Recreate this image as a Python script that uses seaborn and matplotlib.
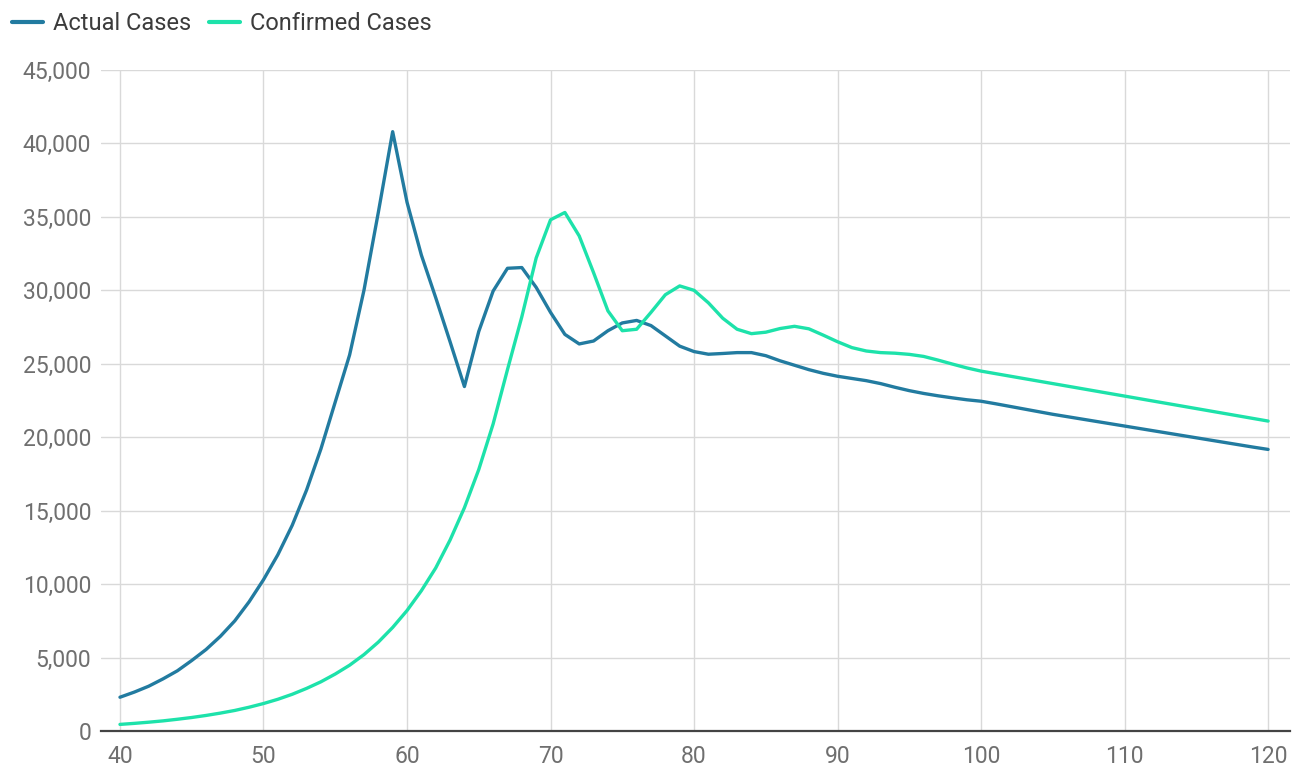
import pandas as pd
import seaborn as sns
import matplotlib.pyplot as plt
from matplotlib.ticker import FuncFormatter, MultipleLocator

# data (day -> cases)
days = list(range(40, 121))

actual_cases = [
    2300, 2650, 3050, 3550, 4100, 4800, 5550, 6450, 7500, 8800,        # 40-49
    10300, 12000, 14000, 16400, 19200, 22400, 25600, 30000, 35300, 40800,  # 50-59
    36000, 32400, 29500, 26500, 23450, 27200, 29950, 31500, 31550, 30200,  # 60-69
    28500, 27000, 26350, 26550, 27250, 27780, 27950, 27600, 26900, 26200,  # 70-79
    25830, 25650, 25700, 25760, 25760, 25550, 25200, 24900, 24600, 24350,  # 80-89
    24150, 24000, 23850, 23650, 23400, 23170, 22980, 22820, 22680, 22550,  # 90-99
    22450, 22280, 22100, 21920, 21740, 21560, 21400, 21240, 21080, 20920,  # 100-109
    20760, 20600, 20440, 20280, 20120, 19960, 19800, 19640, 19480, 19320,  # 110-119
    19170,                                                                 # 120
]

confirmed_cases = [
    450, 520, 600, 690, 800, 920, 1060, 1220, 1400, 1620,              # 40-49
    1870, 2160, 2500, 2900, 3350, 3880, 4480, 5200, 6050, 7050,        # 50-59
    8200, 9550, 11100, 13000, 15200, 17800, 20900, 24600, 28200, 32200,  # 60-69
    34800, 35300, 33700, 31200, 28600, 27250, 27350, 28500, 29700, 30300,  # 70-79
    30000, 29150, 28100, 27350, 27050, 27150, 27400, 27550, 27380, 26950,  # 80-89
    26500, 26100, 25870, 25760, 25720, 25640, 25500, 25250, 24980, 24720,  # 90-99
    24500, 24330, 24160, 23990, 23820, 23650, 23480, 23310, 23140, 22970,  # 100-109
    22800, 22630, 22460, 22290, 22120, 21950, 21780, 21610, 21440, 21270,  # 110-119
    21100,                                                                 # 120
]

series_names = ['Actual Cases', 'Confirmed Cases']
series_colors = ['#227ba0', '#1de2aa']

df = pd.concat([
    pd.DataFrame({'day': days, 'cases': actual_cases, 'series': series_names[0]}),
    pd.DataFrame({'day': days, 'cases': confirmed_cases, 'series': series_names[1]}),
])

sns.set_style('white')
plt.rcParams['font.family'] = ['Roboto', 'DejaVu Sans']

fig = plt.figure(figsize=(12.92, 7.69), dpi=100)
ax = fig.add_axes([0.0782, 0.0494, 0.9203, 0.8596])

sns.lineplot(data=df, x='day', y='cases', hue='series', palette=series_colors,
             linewidth=2.4, ax=ax, zorder=3)

ax.set_xlim(38.68, 121.53)
ax.set_ylim(0, 45000)
ax.xaxis.set_major_locator(MultipleLocator(10))
ax.yaxis.set_major_locator(MultipleLocator(5000))
ax.yaxis.set_major_formatter(FuncFormatter(lambda v, p: f'{int(v):,}'))

ax.grid(True, color='#d9d9d9', linewidth=1.0)
ax.set_axisbelow(True)
for s in ['top', 'right', 'left']:
    ax.spines[s].set_visible(False)
ax.spines['bottom'].set_color('#444444')
ax.spines['bottom'].set_linewidth(1.6)
ax.spines['bottom'].set_zorder(4)

ax.tick_params(axis='both', length=0, labelsize=16.5, labelcolor='#6f6f6f')
ax.tick_params(axis='x', pad=10)
ax.tick_params(axis='y', pad=7)
ax.set_xlabel('')
ax.set_ylabel('')

handles, labels = ax.get_legend_handles_labels()
for h in handles:
    h.set_linewidth(3)
ax.legend(handles, labels, loc='upper left', bbox_to_anchor=(0.0, 1.0),
          bbox_transform=fig.transFigure, ncol=2, frameon=False,
          fontsize=17, labelcolor='#3c3c3c', handlelength=1.3,
          handletextpad=0.45, columnspacing=0.75, borderaxespad=0.3,
          borderpad=0.2)

fig.savefig('out.png', dpi=100)
